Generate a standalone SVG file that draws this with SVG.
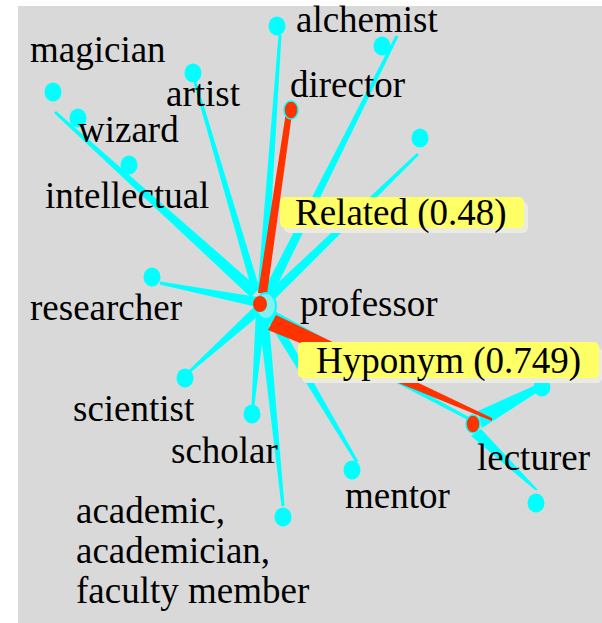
<svg xmlns="http://www.w3.org/2000/svg" width="602" height="623" viewBox="0 0 602 623">
<style>
.bg{fill:#d9d9d9}
.e{fill:#00ffff}
.er{fill:#ff3300}
.leaf{fill:#00ffff}
.hub{fill:#ff3300;stroke:#00ffff;stroke-width:1.5}
.t{font-family:"Liberation Serif","Times New Roman",serif;font-size:37px;fill:#000}
.lbl{fill:#ffff66}
.sh{fill:#ecebe0}
</style>
<rect class="bg" x="18" y="6" width="584" height="617"/>
<g id="connectors">
<polygon class="e" points="56,110.9 259,288.6 251,297.4 54,113.1"/>
<polygon class="e" points="196.4,81.6 259.8,288.9 252.2,291.1 193.6,82.4"/>
<polygon class="e" points="278.5,34.9 281.5,35.1 266.5,292.3 257.5,291.7"/>
<polygon class="e" points="395.7,35.3 398.3,36.7 272.5,295.2 263.5,290.8"/>
<polygon class="e" points="417,152.9 419,155.1 273.5,300.6 266.5,293.4"/>
<polygon class="e" points="160.3,281.5 259,297.1 257,306.9 159.7,284.5"/>
<polygon class="e" points="189,369.9 254.7,306.3 261.3,313.7 191,372.1"/>
<polygon class="e" points="251.5,404.9 256,309.6 266,310.4 254.5,405.1"/>
<polygon class="e" points="281.5,506.2 258,310.5 268,309.5 284.5,505.8"/>
<polygon class="e" points="355.7,462.8 263.7,314.6 272.3,309.4 358.3,461.2"/>
<polygon class="e" points="475.7,420.7 474.3,423.3 266.1,315.5 269.9,308.5"/>
<polygon class="e" points="478,411 538,384 541,390 482,428"/>
<polygon class="e" points="471,436 481,429 538,490 535,490"/>
<polygon class="er" points="286.5,109 292.5,110 267,294 258,293"/>
<polygon class="er" points="276,315 492,418 492,421 268,330"/>
</g>
<g id="n-professor">
<ellipse cx="266" cy="306" rx="10" ry="13" fill="#80f0f0" stroke="#00ffff" stroke-width="2"/>
<ellipse cx="260" cy="304" rx="7" ry="8" fill="#ff3300"/>
<text class="t" x="300" y="316">professor</text>
</g>
<g id="n-magician"><ellipse class="leaf" cx="53" cy="92" rx="8.5" ry="9.5"/><text class="t" x="30" y="62">magician</text></g>
<g id="n-wizard"><ellipse class="leaf" cx="78" cy="118" rx="8.5" ry="9.5"/><text class="t" x="78" y="142">wizard</text></g>
<g id="n-intellectual"><ellipse class="leaf" cx="129" cy="165" rx="8.5" ry="9.5"/><text class="t" x="45" y="208">intellectual</text></g>
<g id="n-artist"><ellipse class="leaf" cx="193" cy="73" rx="8.5" ry="9.5"/><text class="t" x="166" y="106">artist</text></g>
<g id="n-alchemist"><ellipse class="leaf" cx="277" cy="26" rx="8.5" ry="9.5"/><text class="t" x="296" y="32">alchemist</text></g>
<g id="n-top-right"><ellipse class="leaf" cx="382" cy="46" rx="8.5" ry="9.5"/></g>
<g id="n-right"><ellipse class="leaf" cx="420" cy="138" rx="8.5" ry="9.5"/></g>
<g id="n-director"><ellipse class="hub" cx="291" cy="110" rx="7" ry="9"/><text class="t" x="290" y="97">director</text></g>
<g id="n-researcher"><ellipse class="leaf" cx="152" cy="277" rx="8.5" ry="9.5"/><text class="t" x="30" y="320">researcher</text></g>
<g id="n-scientist"><ellipse class="leaf" cx="185" cy="378" rx="8.5" ry="9.5"/><text class="t" x="73" y="421">scientist</text></g>
<g id="n-scholar"><ellipse class="leaf" cx="252" cy="414" rx="8.5" ry="9.5"/><text class="t" x="171" y="463">scholar</text></g>
<g id="n-academic"><ellipse class="leaf" cx="283" cy="517" rx="8.5" ry="9.5"/><text class="t" x="76" y="523">academic,<tspan x="76" y="563">academician,</tspan><tspan x="76" y="603">faculty member</tspan></text></g>
<g id="n-mentor"><ellipse class="leaf" cx="352" cy="470" rx="8.5" ry="9.5"/><text class="t" x="345" y="508">mentor</text></g>
<g id="n-lecturer-up"><ellipse class="leaf" cx="542" cy="387" rx="8.5" ry="9.5"/></g>
<g id="n-lecturer-down"><ellipse class="leaf" cx="536" cy="503" rx="8.5" ry="9.5"/></g>
<g id="n-lecturer"><ellipse class="hub" cx="473" cy="424" rx="7" ry="9"/><text class="t" x="477" y="470">lecturer</text></g>
<g id="edge-labels">
<rect class="sh" x="284" y="202" width="244" height="31" rx="5"/>
<rect class="lbl" x="280" y="197" width="244" height="31" rx="5"/>
<text class="t" x="295" y="225">Related (0.48)</text>
<rect class="sh" x="302" y="347" width="300" height="36" rx="5"/>
<rect class="lbl" x="298" y="342" width="301" height="36" rx="5"/>
<text class="t" x="316" y="373">Hyponym (0.749)</text>
</g>
</svg>
